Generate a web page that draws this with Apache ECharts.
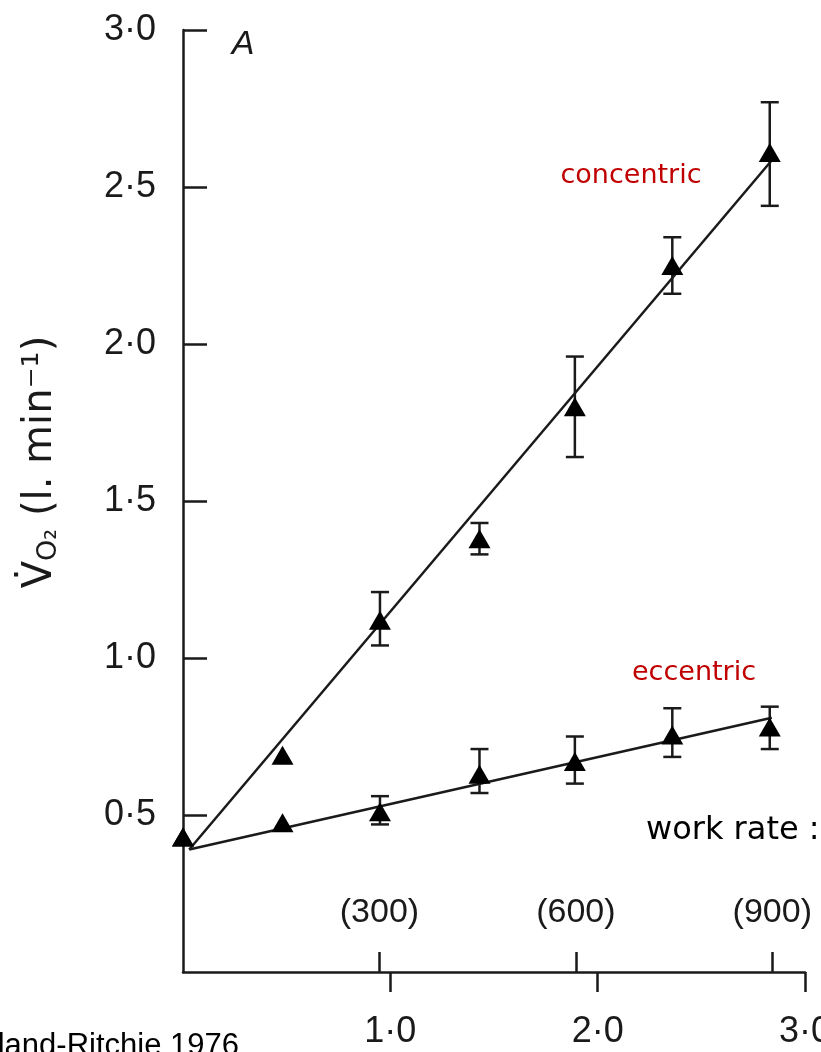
<!DOCTYPE html>
<html>
<head>
<meta charset="utf-8">
<script src="https://cdn.jsdelivr.net/npm/echarts@6/dist/echarts.min.js"></script>
<style>
html,body{margin:0;padding:0;background:#fff;}
#chart{width:821px;height:1052px;}
</style>
</head>
<body>
<div id="chart"></div>
<script>
// ---- data ----
const workRate = [0, 0.48, 0.95, 1.43, 1.89, 2.36, 2.83];
const concentricVO2 = [0.43, 0.69, 1.12, 1.38, 1.80, 2.25, 2.61];
const concentricErrLow = [null, null, 1.04, 1.33, 1.64, 2.16, 2.44];
const concentricErrHigh = [null, null, 1.21, 1.43, 1.96, 2.34, 2.77];
const eccentricVO2 = [0.43, 0.475, 0.51, 0.63, 0.67, 0.755, 0.78];
const eccentricErrLow = [null, null, 0.47, 0.57, 0.60, 0.685, 0.71];
const eccentricErrHigh = [null, null, 0.56, 0.71, 0.75, 0.84, 0.845];
const concentricFit = [[0.03, 0.39], [2.84, 2.585]];
const eccentricFit = [[0.03, 0.39], [2.84, 0.81]];
const xTicks = [1.0, 2.0, 3.0];
const yTicks = [0.5, 1.0, 1.5, 2.0, 2.5, 3.0];
const wattTicks = [300, 600, 900];
const wattMax = 950;

const ink = '#1a1a1a';
const tickFont = 'Liberation Sans';
const fmt = v => v.toFixed(1).replace('.', '·');

function pts(xs, ys) { return xs.map((x, i) => [x, ys[i]]); }
function errs(xs, lo, hi) {
  return xs.map((x, i) => [x, lo[i], hi[i]]).filter(d => d[1] != null);
}
function errItem(params, api) {
  const x = api.value(0), lo = api.value(1), hi = api.value(2);
  const a = api.coord([x, hi]), b = api.coord([x, lo]);
  const w = 9;
  const st = { stroke: ink, lineWidth: 2.5 };
  return {
    type: 'group',
    children: [
      { type: 'line', shape: { x1: a[0], y1: a[1], x2: b[0], y2: b[1] }, style: st },
      { type: 'line', shape: { x1: a[0] - w, y1: a[1], x2: a[0] + w, y2: a[1] }, style: st },
      { type: 'line', shape: { x1: b[0] - w, y1: b[1], x2: b[0] + w, y2: b[1] }, style: st }
    ]
  };
}

const chart = echarts.init(document.getElementById('chart'), null, { renderer: 'canvas' });
chart.setOption({
  animation: false,
  backgroundColor: '#fff',
  grid: { left: 183, right: 16, top: 30, bottom: 80, outerBoundsMode: 'none' },
  xAxis: [
    {
      type: 'value', min: 0, max: 3, position: 'bottom',
      axisLine: { show: true, lineStyle: { color: ink, width: 2.5 } },
      axisTick: { show: true, inside: false, length: 20, customValues: xTicks, lineStyle: { color: ink, width: 2.5 } },
      axisLabel: { customValues: xTicks, formatter: fmt, margin: 42, fontSize: 36, fontFamily: tickFont, color: ink },
      splitLine: { show: false }
    },
    {
      type: 'value', min: 0, max: wattMax, position: 'bottom',
      axisLine: { show: false },
      axisTick: { show: true, inside: true, length: 20, customValues: wattTicks, lineStyle: { color: ink, width: 2.5 } },
      axisLabel: { inside: true, customValues: wattTicks, formatter: v => '(' + v + ')', margin: 42, fontSize: 34, fontFamily: tickFont, color: ink },
      splitLine: { show: false }
    }
  ],
  yAxis: {
    type: 'value', min: 0, max: 3,
    axisLine: { show: true, lineStyle: { color: ink, width: 2.5 } },
    axisTick: { show: true, inside: true, length: 24, customValues: yTicks, lineStyle: { color: ink, width: 2.5 } },
    axisLabel: { customValues: yTicks, formatter: fmt, margin: 27, fontSize: 36, fontFamily: tickFont, color: ink },
    splitLine: { show: false }
  },
  series: [
    { type: 'line', data: concentricFit, symbol: 'none', lineStyle: { color: ink, width: 2.5 }, z: 2 },
    { type: 'line', data: eccentricFit, symbol: 'none', lineStyle: { color: ink, width: 2.5 }, z: 2 },
    { type: 'custom', data: errs(workRate, concentricErrLow, concentricErrHigh), renderItem: errItem, encode: { x: 0, y: [1, 2] }, z: 3 },
    { type: 'custom', data: errs(workRate, eccentricErrLow, eccentricErrHigh), renderItem: errItem, encode: { x: 0, y: [1, 2] }, z: 3 },
    { type: 'scatter', data: pts(workRate, concentricVO2), symbol: 'triangle', symbolSize: [22, 19], itemStyle: { color: '#000', opacity: 1 }, z: 4 },
    { type: 'scatter', data: pts(workRate, eccentricVO2), symbol: 'triangle', symbolSize: [22, 19], itemStyle: { color: '#000', opacity: 1 }, z: 4 }
  ],
  graphic: [
    { type: 'text', x: 243, y: 45, style: { text: 'A', font: 'italic 34px Liberation Sans', fill: ink, align: 'center', verticalAlign: 'middle' } },
    { type: 'text', x: 631, y: 176, style: { text: 'concentric', font: '27px DejaVu Sans', fill: '#c00000', align: 'center', verticalAlign: 'middle' } },
    { type: 'text', x: 694, y: 673, style: { text: 'eccentric', font: '27px DejaVu Sans', fill: '#c00000', align: 'center', verticalAlign: 'middle' } },
    { type: 'text', x: 646, y: 831, style: { text: 'work rate :', font: '32px DejaVu Sans', fill: '#000', align: 'left', verticalAlign: 'middle' } },
    { type: 'text', x: 239, y: 1046, style: { text: 'Bigland-Ritchie 1976', font: '31px Liberation Sans', fill: '#000', align: 'right', verticalAlign: 'middle' } },
    {
      type: 'text', x: 41, y: 462, rotation: Math.PI / 2,
      style: {
        text: '{v|V̇}{s|O₂}{v| (l. min⁻¹)}',
        align: 'center', verticalAlign: 'middle', fill: ink,
        rich: {
          v: { fontSize: 40, fontFamily: 'DejaVu Sans', color: ink, verticalAlign: 'middle' },
          s: { fontSize: 27, fontFamily: 'DejaVu Sans', color: ink, verticalAlign: 'bottom', padding: [16, 0, 0, 0] }
        }
      }
    }
  ]
});
</script>
</body>
</html>
